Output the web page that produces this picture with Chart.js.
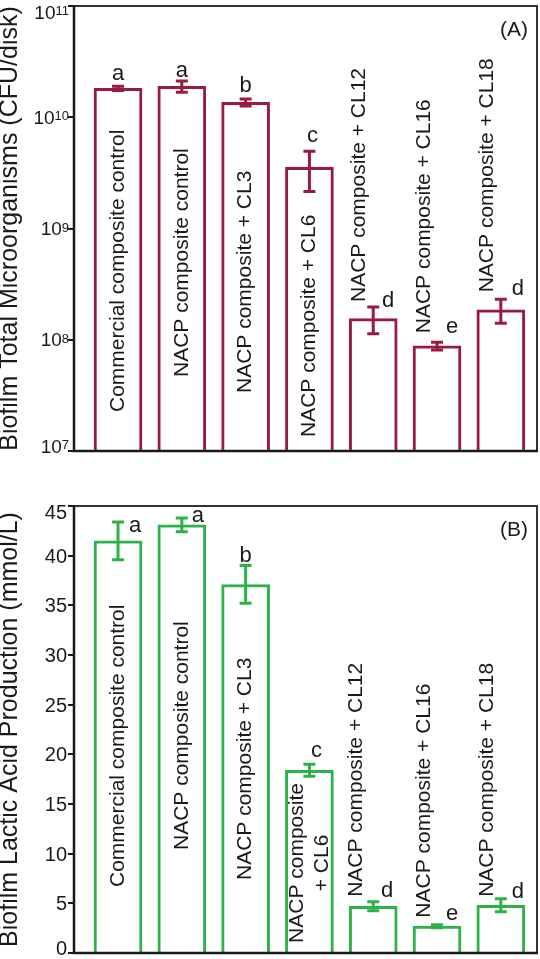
<!DOCTYPE html>
<html>
<head>
  <title>Biofilm microorganisms and lactic acid</title>
  <style>
    body { margin: 0; background: #fff; }
    #wrap { position: relative; width: 540px; height: 959px; }
    canvas { position: absolute; left: 0; }
    #panelA { top: 0; }
    #panelB { top: 480px; }
  </style>
</head>
<body>
<div id="wrap">
  <canvas id="panelA" width="540" height="480"></canvas>
  <canvas id="panelB" width="540" height="479"></canvas>
</div>

<script src="https://cdn.jsdelivr.net/npm/chart.js"></script>
<script>
  // --- data ---
  const groupsA = [
    "Commercial composite control", "NACP composite control", "NACP composite + CL3",
    "NACP composite + CL6", "NACP composite + CL12", "NACP composite + CL16", "NACP composite + CL18"
  ];
  const groupsB = [
    "Commercial composite control", "NACP composite control", "NACP composite + CL3",
    ["NACP composite", "+ CL6"], "NACP composite + CL12", "NACP composite + CL16", "NACP composite + CL18"
  ];
  const cfuMean = [1.82e10, 1.90e10, 1.36e10, 3.55e9, 1.55e8, 8.8e7, 1.86e8];   // CFU/disk
  const cfuErr  = [0.08e10, 0.22e10, 0.10e10, 1.4e9, 0.42e8, 0.7e7, 0.45e8];
  const lacticMean = [41.5, 43.1, 37.1, 18.4, 4.7, 2.7, 4.8];                  // mmol/L
  const lacticErr  = [1.9, 0.7, 1.9, 0.6, 0.45, 0.15, 0.65];
  const lettersA = ["a", "a", "b", "c", "d", "e", "d"];
  const lettersB = ["a", "a", "b", "c", "d", "e", "d"];
  const ticksA = [1e7, 1e8, 1e9, 1e10, 1e11];

  const FONT = '"Liberation Sans", Arial, sans-serif';
  const INK = '#1a1a1a';

  // where the rotated group labels and letters sit (pixels)
  const labelLayoutA = [
    {mode: 'in', d: 39}, {mode: 'in', d: 74}, {mode: 'in', d: 58}, {mode: 'in', d: 14},
    {mode: 'out', d: 5, dx: -14}, {mode: 'out', d: 9, dx: -13}, {mode: 'out', d: 7, dx: -14}
  ];
  const labelLayoutB = [
    {mode: 'in', d: 66}, {mode: 'in', d: 103}, {mode: 'in', d: 73}, {mode: 'mid', d: 90, gap: 25},
    {mode: 'out', d: 5, dx: -17}, {mode: 'out', d: 7, dx: -13}, {mode: 'out', d: 2, dx: -14}
  ];
  const letterOffA = [[0, -6], [0, -4], [0, -7], [3, -9], [15, 0], [15, -9], [17, -4]];
  const letterOffB = [[17, 10], [16, 4], [0, -4], [7, -7], [14, -5], [15, -5], [17, -1]];

  const panelDecor = {
    id: 'panelDecor',
    afterDatasetsDraw(chart, args, o) {
      const ctx = chart.ctx;
      const xs = chart.scales.x, ys = chart.scales.y;
      const area = chart.chartArea;
      ctx.save();

      // error bars
      ctx.strokeStyle = o.color;
      ctx.lineWidth = 3;
      const caps = o.values.map((v, i) => {
        const x = xs.getPixelForValue(i);
        const yt = ys.getPixelForValue(v + o.errors[i]);
        const yb = ys.getPixelForValue(v - o.errors[i]);
        ctx.beginPath();
        ctx.moveTo(x, yt); ctx.lineTo(x, yb);
        ctx.moveTo(x - 6, yt); ctx.lineTo(x + 6, yt);
        ctx.moveTo(x - 6, yb); ctx.lineTo(x + 6, yb);
        ctx.stroke();
        return {x, yt};
      });

      // frame
      ctx.strokeStyle = '#333';
      ctx.lineWidth = 2;
      ctx.beginPath();
      ctx.moveTo(area.left, area.top); ctx.lineTo(area.right, area.top); ctx.lineTo(area.right, area.bottom);
      ctx.stroke();
      ctx.strokeStyle = INK;
      ctx.lineWidth = 2.5;
      ctx.beginPath();
      ctx.moveTo(area.left, area.top - 1); ctx.lineTo(area.left, area.bottom); ctx.lineTo(area.right + 1, area.bottom);
      ctx.stroke();

      // y tick labels
      ctx.fillStyle = INK;
      ys.ticks.forEach(t => {
        let y = ys.getPixelForValue(t.value);
        y = Math.min(Math.max(y, area.top + 6), area.bottom - 5);
        if (o.log) {
          const ex = String(Math.round(Math.log10(t.value)));
          ctx.font = `13px ${FONT}`;
          const ew = ctx.measureText(ex).width;
          ctx.textAlign = 'left';
          ctx.textBaseline = 'alphabetic';
          ctx.fillText(ex, 69 - ew, y + 3);
          ctx.font = `19px ${FONT}`;
          ctx.textAlign = 'right';
          ctx.fillText('10', 69 - ew, y + 6.5);
        } else {
          ctx.font = `20px ${FONT}`;
          ctx.textAlign = 'right';
          ctx.textBaseline = 'alphabetic';
          ctx.fillText(String(t.value), 67, y + 7);
        }
      });

      // rotated group labels
      ctx.font = `21px ${FONT}`;
      o.labels.forEach((lab, i) => {
        const lay = o.layout[i];
        const cx = caps[i].x + (lay.dx || 0);
        ctx.save();
        if (lay.mode === 'mid') {
          ctx.translate(cx, area.bottom - lay.d);
          ctx.rotate(-Math.PI / 2);
          ctx.textAlign = 'center';
          ctx.textBaseline = 'middle';
          lab.forEach((ln, k) => ctx.fillText(ln, 0, (k - (lab.length - 1) / 2) * lay.gap));
        } else {
          const y0 = lay.mode === 'in' ? area.bottom - lay.d : caps[i].yt - lay.d;
          ctx.translate(cx, y0);
          ctx.rotate(-Math.PI / 2);
          ctx.textAlign = 'left';
          ctx.textBaseline = 'middle';
          ctx.fillText(lab, 0, 0);
        }
        ctx.restore();
      });

      // significance letters
      ctx.font = `22px ${FONT}`;
      ctx.textAlign = 'center';
      ctx.textBaseline = 'alphabetic';
      o.letters.forEach((s, i) => {
        const [dx, dy] = o.letterOff[i];
        ctx.fillText(s, caps[i].x + dx, caps[i].yt + dy);
      });

      // panel tag
      ctx.font = `21px ${FONT}`;
      ctx.textAlign = 'right';
      ctx.fillText(o.tag, area.right - 9, area.top + 30);

      ctx.restore();
    }
  };

  function makePanel(id, p) {
    return new Chart(document.getElementById(id), {
      type: 'bar',
      data: {
        datasets: [{
          data: p.values.map((v, i) => ({x: i, y: v})),
          backgroundColor: '#fff',
          borderColor: p.color,
          borderWidth: 3,
          borderSkipped: 'start',
          barThickness: 48
        }]
      },
      options: {
        responsive: false,
        animation: false,
        devicePixelRatio: 1,
        layout: { padding: p.padding },
        plugins: {
          legend: { display: false },
          tooltip: { enabled: false },
          panelDecor: {
            color: p.color, values: p.values, errors: p.errors, log: p.log,
            labels: p.labels, layout: p.layout, letters: p.letters, letterOff: p.letterOff, tag: p.tag
          }
        },
        scales: {
          x: { type: 'linear', display: false, offset: false, min: -0.69, max: 6.567 },
          y: Object.assign({
            afterFit: s => { s.width = 74; },
            ticks: { display: false },
            grid: { drawOnChartArea: false, drawTicks: true, tickLength: 6, color: INK, lineWidth: 2 },
            border: { display: false },
            title: {
              display: true, text: p.title, color: INK,
              font: { family: FONT, size: 25 },
              padding: { top: -5, bottom: 0 }
            }
          }, p.yScale)
        }
      },
      plugins: [panelDecor]
    });
  }

  makePanel('panelA', {
    values: cfuMean, errors: cfuErr, color: '#9b1b40', log: true,
    labels: groupsA, layout: labelLayoutA, letters: lettersA, letterOff: letterOffA, tag: '(A)',
    title: 'Biofilm Total Microorganisms (CFU/disk)',
    padding: { top: 6, right: 3, bottom: 29, left: 0 },
    yScale: {
      type: 'logarithmic', min: 1e7, max: 1e11,
      afterBuildTicks: s => { s.ticks = ticksA.map(v => ({value: v})); }
    }
  });

  makePanel('panelB', {
    values: lacticMean, errors: lacticErr, color: '#2db24a', log: false,
    labels: groupsB, layout: labelLayoutB, letters: lettersB, letterOff: letterOffB, tag: '(B)',
    title: 'Biofilm Lactic Acid Production (mmol/L)',
    padding: { top: 26, right: 3, bottom: 6, left: 0 },
    yScale: { type: 'linear', min: 0, max: 45, ticks: { display: false, stepSize: 5 } }
  });
</script>
</body>
</html>
